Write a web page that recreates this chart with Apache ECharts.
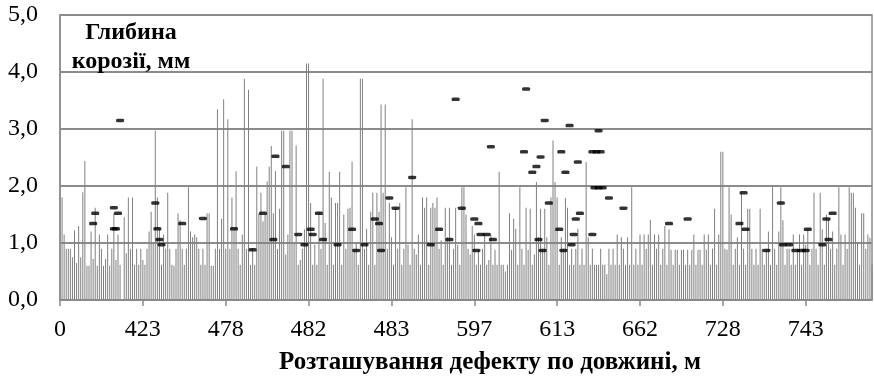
<!DOCTYPE html>
<html>
<head>
<meta charset="utf-8">
<script src="https://cdn.jsdelivr.net/npm/echarts@6/dist/echarts.min.js"></script>
<style>
  html, body { margin: 0; padding: 0; background: #fff; }
  #chart { width: 874px; height: 383px; }
</style>
</head>
<body>
<div id="chart"></div>
<script>
// labels under every 40th defect
var tickLabels = ['0', '423', '478', '482', '483', '597', '613', '662', '728', '743'];

// depth of each defect (gray bars), mm
var depth = [
  0, 1.80, 1.15, 0.90, 0.90, 0.90, 0.75, 1.22, 0.65, 1.30, 0.75, 1.89, 2.44, 0.60, 0.60, 1.20, 0.72, 1.62, 0.60, 1.15,
  0.90, 0.60, 0.72, 1.15, 0.60, 0.90, 1.52, 0.70, 1.15, 0.62, 0, 1.45, 0.82, 1.80, 0.90, 1.80, 0.62, 0.90, 0.62, 0.90,
  0.70, 0.62, 0.90, 1.20, 1.55, 1.00, 2.97, 1.80, 1.25, 0.62, 1.15, 0.90, 1.88, 0.90, 0.62, 0.60, 0.90, 1.52, 1.40, 0.90,
  0.62, 0.90, 1.98, 1.20, 1.10, 1.15, 1.10, 0.90, 0.62, 0.90, 0.62, 1.52, 1.52, 0.60, 0.60, 0.90, 3.34, 0.90, 1.43, 3.52,
  0.90, 3.17, 0.90, 1.80, 1.25, 2.26, 0.90, 0.62, 1.15, 3.88, 0.90, 3.69, 0.62, 0.90, 0.62, 2.34, 1.52, 1.88, 1.38, 1.50,
  2.08, 2.34, 2.70, 1.52, 2.26, 0.90, 1.60, 2.97, 2.97, 0.80, 1.15, 2.97, 2.97, 1.00, 2.71, 0.62, 0.70, 0.90, 1.24, 4.15,
  4.15, 1.70, 0.62, 0.97, 0.62, 1.55, 0.90, 3.88, 1.35, 0.62, 2.25, 1.80, 0.62, 1.70, 1.70, 2.25, 0.62, 1.50, 0.90, 1.60,
  1.62, 2.43, 0.90, 1.00, 0.62, 3.88, 3.88, 0.90, 1.25, 0.62, 1.55, 1.88, 0.62, 1.88, 1.55, 3.43, 1.88, 3.43, 0.90, 1.70,
  1.10, 0.62, 1.62, 0.90, 1.70, 0.62, 0.90, 1.98, 0.97, 0.62, 3.17, 0.90, 0.80, 1.15, 0.62, 1.80, 1.62, 1.80, 0.62, 1.62,
  1.70, 1.62, 1.80, 0.90, 1.05, 0.62, 1.62, 1.10, 1.62, 0.62, 0.90, 1.62, 0.97, 0.62, 1.98, 1.98, 1.50, 0.90, 0.80, 1.30,
  1.15, 0.62, 0.88, 0.62, 0.90, 1.15, 0.62, 0.70, 1.15, 0.62, 0.88, 0.62, 2.25, 0.62, 0.62, 0.50, 0.62, 1.52, 0.88, 1.43,
  1.25, 0.62, 1.98, 0.90, 0.62, 1.62, 0.88, 1.60, 0.62, 0.80, 2.07, 1.10, 1.60, 0.90, 1.60, 1.10, 0.62, 1.80, 2.80, 2.07,
  1.80, 0.62, 1.10, 0.90, 1.79, 1.62, 0.62, 0.90, 0.62, 0.90, 1.25, 0.62, 0.90, 0.62, 2.42, 1.10, 0.62, 0.90, 0.62, 0.62,
  0.62, 0.90, 0.62, 0.62, 0.45, 0.90, 0.62, 0.90, 0.62, 1.15, 0.62, 1.10, 0.90, 0.62, 1.10, 0.62, 1.98, 0.62, 0.90, 0.62,
  1.15, 0.62, 1.15, 0.90, 1.15, 1.41, 0.62, 1.15, 0.90, 1.15, 0.62, 0.90, 1.30, 0.62, 1.24, 0.88, 0.62, 0.88, 0.88, 0.62,
  0.88, 0.88, 0.62, 0.88, 0.62, 0.88, 1.15, 0.62, 0.88, 0.88, 0.62, 1.15, 0.88, 1.15, 0.62, 0.90, 1.60, 0.62, 1.15, 2.60,
  2.60, 0.90, 0.88, 1.98, 1.50, 0.62, 0.90, 1.10, 0.62, 1.88, 0.90, 0.62, 1.60, 1.60, 0.90, 0.62, 0.90, 0.62, 1.60, 0.90,
  0.62, 0.90, 1.20, 0.62, 1.98, 0.90, 0.62, 1.20, 1.98, 1.40, 0.62, 0.90, 0.90, 0.62, 1.15, 0.62, 0.90, 1.15, 0.62, 1.15,
  0.97, 1.24, 0.62, 0.90, 1.88, 0.90, 0.62, 1.88, 1.24, 0.62, 1.50, 1.41, 0.90, 1.20, 0.62, 0.90, 1.98, 1.15, 0.62, 1.15,
  0.90, 1.98, 1.88, 1.88, 1.62, 1.00, 0.62, 1.52, 1.52, 0.90, 1.15, 1.09, 0.62
];

// black dash markers: defect index and value
var markIdx = [16, 17, 26, 28, 26, 27, 29, 46, 47, 48, 49, 59, 69, 84, 93, 98, 103, 104, 109,
  115, 118, 121, 122, 125, 127, 134, 141, 143, 147, 152, 154, 155, 159, 162, 170, 179, 183, 188,
  191, 194, 200, 201, 202, 203, 206, 208, 209, 225, 224, 228, 230, 232, 234, 231, 233, 236, 241,
  242, 243, 244, 246, 247, 248, 249, 251, 250, 257, 257, 259, 261, 260, 258, 260, 262, 265, 272,
  294, 303, 328, 330, 331, 341, 348, 349, 352, 355, 358, 360, 361, 368, 370, 371, 373];
var markVal = [1.34, 1.52, 1.62, 1.52, 1.25, 1.25, 3.15, 1.70, 1.25, 1.06, 0.97, 1.34, 1.43, 1.25, 0.88, 1.52, 1.06, 2.52, 2.34,
  1.15, 0.97, 1.24, 1.15, 1.52, 1.06, 0.97, 1.24, 0.87, 0.97, 1.42, 1.34, 0.87, 1.79, 1.61, 2.15, 0.97, 1.24, 1.06,
  3.52, 1.61, 1.42, 0.87, 1.34, 1.15, 1.15, 2.69, 1.06, 3.70, 2.60, 2.24, 2.34, 2.51, 3.15, 1.06, 0.87, 1.70, 1.24,
  2.60, 0.87, 2.24, 3.06, 0.97, 1.15, 1.42, 1.52, 2.42, 1.15, 2.60, 2.60, 2.60, 2.97, 1.97, 1.97, 1.97, 1.79, 1.61,
  1.34, 1.42, 1.34, 1.88, 1.24, 0.87, 1.70, 0.97, 0.97, 0.87, 0.87, 0.87, 1.24, 0.97, 1.42, 1.06, 1.52];

var categories = depth.map(function (v, i) { return String(i); });
var marks = markIdx.map(function (idx, i) { return [idx, markVal[i]]; });

var serif = '"Liberation Serif", "Times New Roman", serif';
var myChart = echarts.init(document.getElementById('chart'));

var option = {
    backgroundColor: '#fff',
    animation: false,
    title: [
        {
            text: 'Глибина\nкорозії, мм',
            left: 126, top: 13,
            textAlign: 'center',
            textStyle: { fontFamily: serif, fontWeight: 'bold', fontSize: 24, lineHeight: 29, color: '#000' }
        },
        {
            text: 'Розташування дефекту по довжині, м',
            left: 485, top: 345,
            textAlign: 'center',
            textStyle: { fontFamily: serif, fontWeight: 'bold', fontSize: 25, color: '#000' }
        }
    ],
    grid: {
        left: 60, right: 2, top: 15, bottom: 83,
        show: true, borderColor: '#8c8c8c', borderWidth: 1.5
    },
    xAxis: {
        type: 'category',
        data: categories,
        boundaryGap: false,
        axisLine: { lineStyle: { color: '#8c8c8c', width: 1.5 } },
        axisTick: { interval: 39, length: 6, lineStyle: { color: '#8c8c8c', width: 1.5 } },
        axisLabel: {
            interval: 39, margin: 18,
            fontFamily: serif, fontSize: 24, color: '#000',
            formatter: function (v, i) { return tickLabels[i / 40]; }
        },
        splitLine: { show: false }
    },
    yAxis: {
        type: 'value',
        min: 0, max: 5, interval: 1,
        axisLine: { show: true, lineStyle: { color: '#8c8c8c', width: 1.5 } },
        axisTick: { show: false },
        axisLabel: {
            margin: 22, fontFamily: serif, fontSize: 24, color: '#000',
            formatter: function (v) { return v.toFixed(1).replace('.', ','); }
        },
        splitLine: { lineStyle: { color: '#8c8c8c', width: 2 } }
    },
    series: [
        {
            name: 'depth',
            type: 'bar',
            data: depth,
            barWidth: 1,
            itemStyle: { color: '#808080' },
            silent: true
        },
        {
            name: 'marks',
            type: 'scatter',
            data: marks,
            symbol: 'roundRect',
            symbolSize: [8, 3.5],
            itemStyle: { color: '#000' },
            silent: true
        }
    ]
};

myChart.setOption(option);
</script>
</body>
</html>
